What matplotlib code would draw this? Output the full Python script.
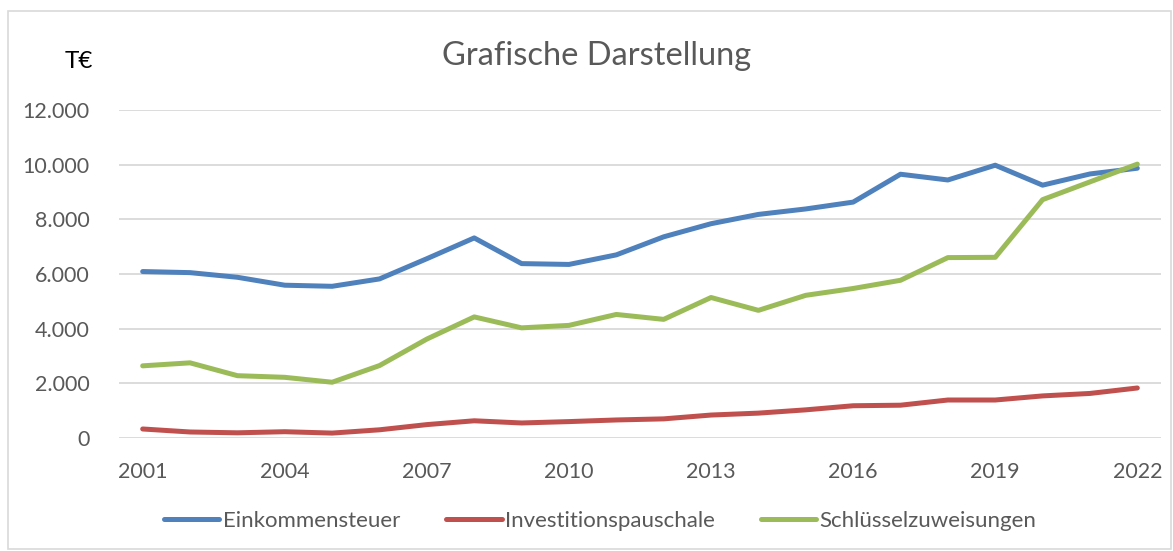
import matplotlib
matplotlib.use("Agg")
import matplotlib.pyplot as plt
from matplotlib.patches import Rectangle
from matplotlib.ticker import FuncFormatter

plt.rcParams['font.family'] = ['Lato', 'DejaVu Sans']

years = list(range(2001, 2023))
einkommensteuer = [6090, 6050, 5880, 5590, 5550, 5820, 6560, 7320, 6380, 6350, 6700,
                   7360, 7840, 8180, 8380, 8630, 9650, 9440, 9980, 9250, 9660, 9870]
investitionspauschale = [330, 220, 190, 230, 180, 300, 490, 630, 550, 600, 660,
                         700, 840, 910, 1030, 1180, 1200, 1390, 1390, 1540, 1630, 1830]
schluesselzuweisungen = [2640, 2750, 2280, 2220, 2040, 2650, 3620, 4430, 4030, 4120, 4520,
                         4340, 5140, 4670, 5220, 5470, 5770, 6600, 6610, 8720, 9370, 10020]
xticks = [2001, 2004, 2007, 2010, 2013, 2016, 2019, 2022]
yticks = [0, 2000, 4000, 6000, 8000, 10000, 12000]

W, H = 1173, 551
fig = plt.figure(figsize=(W / 100, H / 100), dpi=100)

# chart frame
fig.patches.append(Rectangle((8 / W, 1 - 549 / H), (1171 - 8) / W, (549 - 11) / H,
                             transform=fig.transFigure, fill=False,
                             edgecolor='#d9d9d9', linewidth=1.2))

ax = fig.add_axes([119 / W, 1 - 438 / H, (1161 - 119) / W, (438 - 110) / H])

lw = 3.6
ax.plot(years, einkommensteuer, color='#4f81bd', lw=lw, solid_capstyle='round',
        solid_joinstyle='round', label='Einkommensteuer', zorder=3)
ax.plot(years, investitionspauschale, color='#c0504d', lw=lw, solid_capstyle='round',
        solid_joinstyle='round', label='Investitionspauschale', zorder=3)
ax.plot(years, schluesselzuweisungen, color='#9bbb59', lw=lw, solid_capstyle='round',
        solid_joinstyle='round', label='Schlüsselzuweisungen', zorder=3)

ax.set_xlim(2000.5, 2022.5)
ax.set_ylim(0, 12000)
ax.set_yticks(yticks)
ax.set_xticks(xticks)
ax.yaxis.set_major_formatter(FuncFormatter(lambda v, p: f"{int(v):,}".replace(',', '.')))
ax.grid(axis='y', color='#d9d9d9', linewidth=1.3)
ax.set_axisbelow(True)
for s in ax.spines.values():
    s.set_visible(False)
ax.tick_params(length=0, labelsize=15.5, labelcolor='#595959')
ax.tick_params(axis='y', pad=21)
ax.tick_params(axis='x', pad=17)

fig.text(597 / W, 1 - 65 / H, 'Grafische Darstellung', ha='center', va='baseline',
         fontsize=23.5, color='#595959')
fig.text(78.5 / W, 1 - 68 / H, 'T€', ha='center', va='baseline', fontsize=17.5, color='black')

fig.legend(loc='center', bbox_to_anchor=(600 / W, 1 - 521 / H), ncol=3, frameon=False,
           fontsize=16, handlelength=2.5, columnspacing=2.07, handletextpad=0.14,
           labelcolor='#595959')

fig.savefig('out.png', dpi=100)
